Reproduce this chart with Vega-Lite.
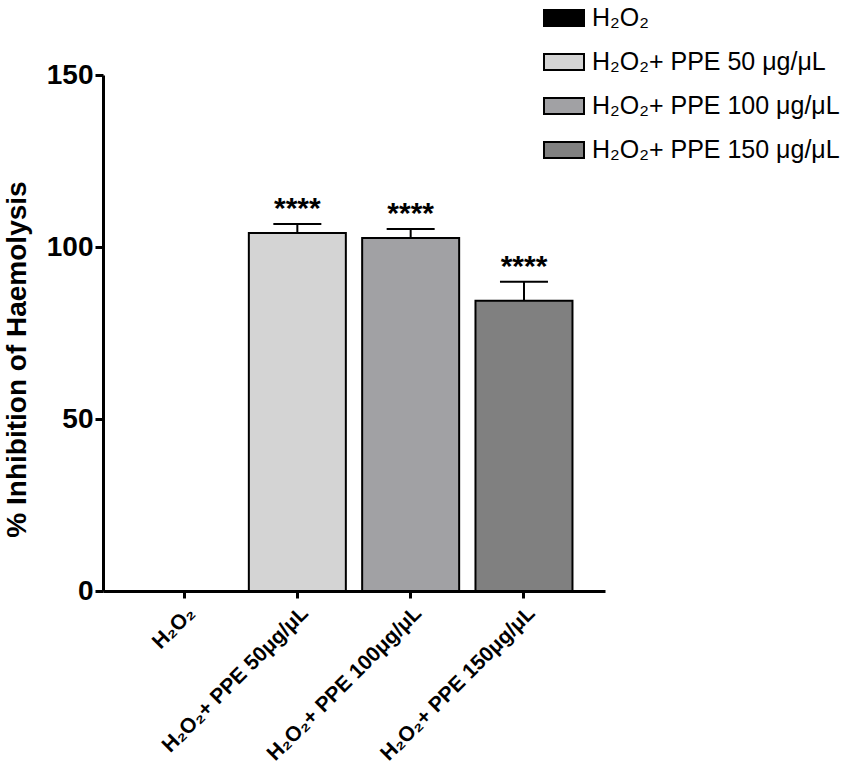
{
  "$schema": "https://vega.github.io/schema/vega-lite/v6.json",
  "width": 502,
  "height": 516,
  "autosize": {"type": "none"},
  "padding": {"left": 103, "top": 75, "right": 246, "bottom": 179},
  "background": "white",
  "config": {"view": {"stroke": null}, "font": "Liberation Sans"},
  "data": {
    "values": [
      {"group": "H₂O₂", "legend": "H₂O₂", "mean": 0, "upper": 0, "stars": ""},
      {"group": "H₂O₂+ PPE 50μg/μL", "legend": "H₂O₂+ PPE 50 μg/μL", "mean": 104.1, "upper": 106.7, "stars": "****"},
      {"group": "H₂O₂+ PPE 100μg/μL", "legend": "H₂O₂+ PPE 100 μg/μL", "mean": 102.6, "upper": 105.2, "stars": "****"},
      {"group": "H₂O₂+ PPE 150μg/μL", "legend": "H₂O₂+ PPE 150 μg/μL", "mean": 84.4, "upper": 89.9, "stars": "****"}
    ]
  },
  "encoding": {
    "x": {
      "field": "group",
      "type": "nominal",
      "sort": null,
      "scale": {"paddingInner": 0.144, "paddingOuter": 0.287},
      "axis": {
        "title": null,
        "labelAngle": -45,
        "labelFontSize": 21,
        "labelFontWeight": "bold",
        "labelColor": "black",
        "labelFont": "Liberation Sans",
        "domainWidth": 3,
        "domainColor": "black",
        "tickWidth": 3,
        "tickSize": 7,
        "tickColor": "black",
        "labelPadding": 4,
        "labelLimit": 400
      }
    }
  },
  "layer": [
    {
      "mark": {"type": "bar", "stroke": "black", "strokeWidth": 2},
      "encoding": {
        "y": {
          "field": "mean",
          "type": "quantitative",
          "scale": {"domain": [0, 150], "nice": false},
          "axis": {
            "title": "% Inhibition of Haemolysis",
            "values": [0, 50, 100, 150],
            "grid": false,
            "domainColor": "black",
            "domainWidth": 3,
            "tickColor": "black",
            "tickWidth": 3,
            "tickSize": 8,
            "labelFont": "Liberation Sans",
            "labelFontWeight": "bold",
            "labelFontSize": 28,
            "labelColor": "black",
            "labelPadding": 2,
            "titleFont": "Liberation Sans",
            "titleFontSize": 28,
            "titleFontWeight": "bold",
            "titleColor": "black",
            "titleAngle": 270,
            "titleX": -86,
            "titleY": 284,
            "titleAlign": "center",
            "titleBaseline": "middle"
          }
        },
        "fill": {
          "field": "legend",
          "type": "nominal",
          "sort": null,
          "scale": {
            "domain": ["H₂O₂", "H₂O₂+ PPE 50 μg/μL", "H₂O₂+ PPE 100 μg/μL", "H₂O₂+ PPE 150 μg/μL"],
            "range": ["#000000", "#d4d4d4", "#a1a1a4", "#808080"]
          },
          "legend": {
            "orient": "none",
            "legendX": 440,
            "legendY": -78,
            "title": null,
            "labelFontSize": 25,
            "labelFont": "Liberation Sans",
            "labelColor": "black",
            "symbolType": "M-1,-0.4L1,-0.4L1,0.4L-1,0.4Z",
            "symbolSize": 1600,
            "symbolStrokeColor": "black",
            "symbolStrokeWidth": 2,
            "symbolOpacity": 1,
            "rowPadding": 10,
            "labelOffset": 7,
            "padding": 0,
            "labelLimit": 400
          }
        }
      }
    },
    {
      "transform": [{"filter": "datum.upper > datum.mean"}],
      "mark": {"type": "rule", "strokeWidth": 2, "color": "black"},
      "encoding": {
        "y": {"field": "mean", "type": "quantitative"},
        "y2": {"field": "upper"}
      }
    },
    {
      "transform": [{"filter": "datum.upper > datum.mean"}],
      "mark": {"type": "tick", "size": 48, "thickness": 2, "color": "black", "opacity": 1},
      "encoding": {
        "y": {"field": "upper", "type": "quantitative"}
      }
    },
    {
      "transform": [{"filter": "datum.upper > datum.mean"}],
      "mark": {"type": "text", "fontSize": 30, "fontWeight": "bold", "font": "Liberation Sans", "dy": -6, "baseline": "alphabetic", "color": "black"},
      "encoding": {
        "y": {"field": "upper", "type": "quantitative"},
        "text": {"field": "stars"}
      }
    }
  ]
}
